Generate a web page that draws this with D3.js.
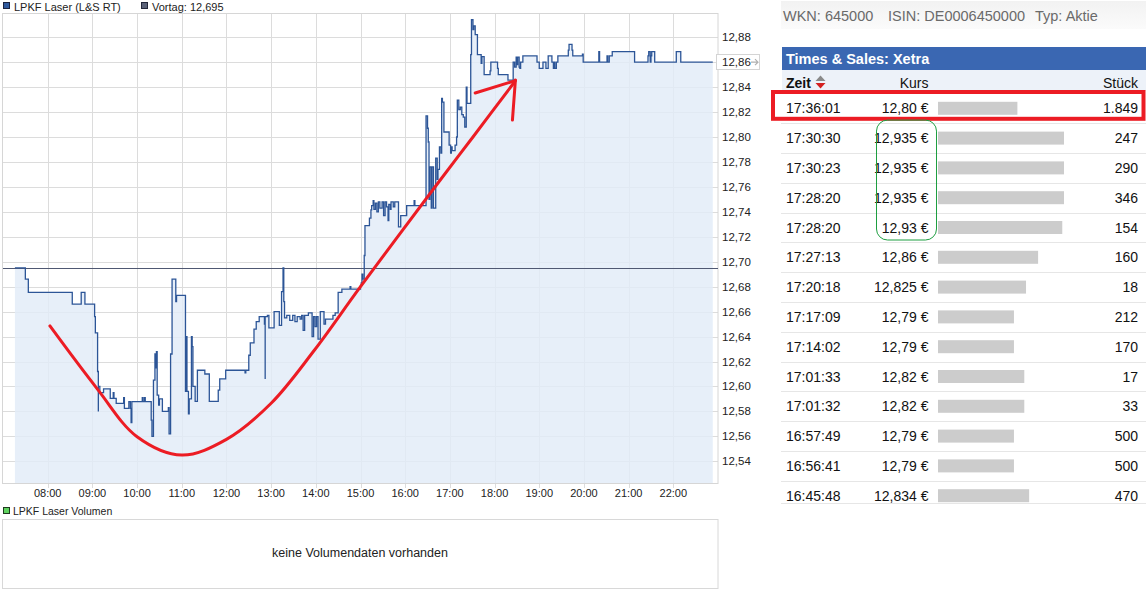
<!DOCTYPE html>
<html><head><meta charset="utf-8">
<script src="https://cdn.jsdelivr.net/npm/d3@7"></script>
<style>
html,body{margin:0;padding:0;background:#fff;}
svg{display:block;font-family:"Liberation Sans",Arial,sans-serif;}
</style></head><body>
<svg id="c" width="1146" height="598"></svg>
<script>
// ---------- chart data (time, price) ----------
const morningTicks = [
 ["07:16",12.695],["07:30",12.686],["07:34",12.6755],["08:33",12.666],["08:45",12.6755],["08:50",12.666],
 ["09:03",12.656],["09:04",12.643],["09:07",12.612],["09:08",12.580],["09:08",12.600],["09:10",12.595],
 ["09:15",12.598],["09:24",12.5904],["09:28",12.595],["09:29",12.5904],["09:32",12.5865],["09:42",12.591],
 ["09:43",12.5825],["09:49",12.5878],["09:51",12.5825],["09:52",12.571],["09:53",12.5878],["10:07",12.591],
 ["10:08",12.5878],["10:10",12.591],["10:11",12.5878],["10:19",12.573],["10:20",12.560],["10:22",12.605],
 ["10:24",12.626],["10:25",12.615],["10:26",12.628],["10:27",12.593],["10:29",12.585],["10:30",12.590],
 ["10:34",12.580],["10:42",12.583],["10:43",12.562],["10:45",12.626],["10:47",12.686],["10:52",12.668],
 ["10:53",12.673],["11:05",12.596],["11:06",12.640],["11:07",12.596],["11:09",12.578],["11:10",12.590],
 ["11:13",12.640],["11:14",12.632],["11:15",12.600],["11:18",12.588],["11:21",12.613],["11:31",12.610],
 ["11:37",12.588],["11:49",12.597],["11:51",12.606],["11:59",12.613]
];
const middayTicks = [
 ["12:25",12.611],["12:26",12.613],["12:30",12.625],["12:32",12.635],["12:37",12.646],["12:40",12.652],
 ["12:44",12.656],["12:51",12.650],["12:52",12.606],["12:52",12.656],["12:55",12.657],["12:57",12.647],
 ["13:04",12.660],["13:11",12.649],["13:14",12.676],["13:16",12.695],["13:17",12.668],["13:18",12.655],
 ["13:21",12.657],["13:25",12.653],["13:29",12.657],["13:32",12.652],["13:35",12.656],["13:39",12.654],
 ["13:41",12.657],["13:43",12.645],["13:45",12.657],["13:50",12.659],["13:55",12.640],["13:57",12.656],
 ["13:59",12.648],["14:01",12.656],["14:03",12.638],["14:06",12.660],["14:11",12.650],["14:13",12.654],
 ["14:23",12.657],["14:26",12.659],["14:30",12.6755],["14:35",12.678],["14:46",12.680],["14:47",12.678],
 ["15:00",12.681],["15:01",12.683],["15:02",12.690],["15:03",12.686]
];
const afternoonTicks = [
 ["15:05",12.705],["15:06",12.729],["15:12",12.735],["15:14",12.7415],["15:15",12.745],["15:17",12.749],
 ["15:18",12.742],["15:20",12.747],["15:22",12.740],["15:24",12.748],["15:26",12.743],["15:29",12.748],
 ["15:31",12.737],["15:33",12.748],["15:35",12.744],["15:37",12.733],["15:38",12.746],["15:40",12.742],
 ["15:41",12.748],["15:44",12.744],["15:46",12.748],["15:51",12.728],["15:54",12.737],["16:02",12.745],
 ["16:12",12.749],["16:13",12.745],["16:28",12.817],["16:30",12.807],["16:31",12.796],["16:32",12.750],
 ["16:33",12.776],["16:35",12.743],["16:36",12.776],["16:38",12.743],["16:41",12.783],["16:43",12.766],
 ["16:44",12.774],["16:46",12.792],["16:48",12.787],["16:49",12.831],["16:50",12.828],["16:52",12.804],
 ["16:59",12.7935],["17:01",12.787],["17:02",12.792],["17:03",12.789],["17:07",12.7935],["17:09",12.800],
 ["17:10",12.8296],["17:12",12.822],["17:14",12.824],["17:16",12.818],["17:18",12.816],["17:20",12.808],
 ["17:22",12.840],["17:23",12.827],["17:28",12.866],["17:29",12.894],["17:31",12.886],["17:32",12.889],
 ["17:34",12.882],["17:37",12.866],["17:42",12.859],["17:43",12.8645],["17:46",12.850],["17:54",12.853],
 ["17:55",12.860]
];
const eveningTicks = [
 ["18:04",12.855],["18:05",12.850],["18:18",12.8456],["18:25",12.860],["18:27",12.856],["18:29",12.864],
 ["18:30",12.858],["18:31",12.864],["18:33",12.856],["18:34",12.855],["18:35",12.860],["18:38",12.865],
 ["18:57",12.860],["19:00",12.855],["19:05",12.860],["19:09",12.855],["19:12",12.865],["19:17",12.860],
 ["19:19",12.855],["19:20",12.860],["19:21",12.855],["19:23",12.860],["19:25",12.865],["19:39",12.8696],
 ["19:40",12.8743],["19:44",12.8696],["19:45",12.865],["19:58",12.8665],["19:59",12.860],["20:20",12.8685],
 ["20:21",12.860],["20:31",12.865],["20:32",12.860],["20:34",12.865],["20:38",12.8685],["21:08",12.860],
 ["21:26",12.865],["21:27",12.8685],["21:29",12.860],["21:30",12.865],["21:31",12.8685],["21:35",12.860],
 ["22:04",12.8685],["22:10",12.860],["22:53",12.860]
];
const previousClose = 12.695;
const lastPrice = 12.86;
const xTickLabels = ["08:00","09:00","10:00","11:00","12:00","13:00","14:00","15:00","16:00","17:00","18:00","19:00","20:00","21:00","22:00"];
const yTickValues = [12.54,12.56,12.58,12.60,12.62,12.64,12.66,12.68,12.70,12.72,12.74,12.76,12.78,12.80,12.82,12.84,12.86,12.88];
// hand-drawn annotation (in data coordinates)
const annoCurve = [["08:03",12.6485],["09:06",12.5985],["10:00",12.5597],["11:00",12.5450],["12:00",12.5576],["13:00",12.5865],["13:58",12.629],["15:00",12.680],["16:42",12.7615],["17:31",12.800],["18:27",12.8443]];
const annoArrowA = [["17:34",12.8353],["18:28",12.8452]];
const annoArrowB = [["18:24",12.8136],["18:28",12.8457]];

// ---------- Times & Sales data ----------
const tsTimes = ["17:36:01","17:30:30","17:30:23","17:28:20","17:28:20","17:27:13","17:20:18","17:17:09","17:14:02","17:01:33","17:01:32","16:57:49","16:56:41","16:45:48"];
const tsPrices = [12.80,12.935,12.935,12.935,12.93,12.86,12.825,12.79,12.79,12.82,12.82,12.79,12.79,12.834];
const tsVolumes = [1849,247,290,346,154,160,18,212,170,17,33,500,500,470];
const infoItems = ["WKN: 645000","ISIN: DE0006450000","Typ: Aktie"];

// ---------- setup ----------
const parseT = d3.timeParse("%H:%M");
const ticks = [].concat(morningTicks, middayTicks, afternoonTicks, eveningTicks).map(d => ({t: parseT(d[0]), p: d[1]}));
const de = d3.formatLocale({decimal:",", thousands:".", grouping:[3], currency:["",""]});
const f2 = de.format(".2f"), f3 = de.format(".3f"), fInt = de.format(",d");
const fmtPrice = p => (Math.abs(Math.round(p*100) - p*100) < 1e-6 ? f2(p) : f3(p)) + " €";

const svg = d3.select("#c");
const P = {left:3, right:718, top:13, bottom:483};
const x = d3.scaleTime().domain([parseT("07:00"), parseT("23:00")]).range([P.left, P.right]);
const y = d3.scaleLinear().domain([12.5226, 12.8994]).range([P.bottom, P.top]);
const ax = d => x(parseT(d[0])), ay = d => y(d[1]);

// legend top
const leg = svg.append("g");
leg.append("rect").attr("x",3.5).attr("y",2.5).attr("width",6).attr("height",6).attr("fill","#2f5a9e").attr("stroke","#1b2340");
leg.append("text").attr("x",14).attr("y",11).attr("font-size",11).attr("fill","#222").text("LPKF Laser (L&S RT)");
leg.append("rect").attr("x",141.5).attr("y",2.5).attr("width",6).attr("height",6).attr("fill","#5b6278").attr("stroke","#22273a");
leg.append("text").attr("x",152).attr("y",11).attr("font-size",11).attr("fill","#222").text("Vortag: " + f3(previousClose));

// grid
const grid = svg.append("g");
grid.selectAll(".hg").data(yTickValues).join("line")
  .attr("x1",P.left).attr("x2",P.right).attr("y1",d=>Math.round(y(d))+0.5).attr("y2",d=>Math.round(y(d))+0.5)
  .attr("stroke","#dcdcdc");
grid.selectAll(".vg").data(xTickLabels).join("line")
  .attr("x1",d=>Math.round(x(parseT(d)))+0.5).attr("x2",d=>Math.round(x(parseT(d)))+0.5)
  .attr("y1",P.top).attr("y2",P.bottom+5).attr("stroke","#dcdcdc");

// area fill (semi transparent so grid shows lightly)
svg.append("path").datum(ticks)
  .attr("d", d3.area().curve(d3.curveStepAfter).x(d=>x(d.t)).y0(P.bottom).y1(d=>y(d.p)))
  .attr("fill","rgb(226,235,248)").attr("fill-opacity",0.82);

// frame
svg.append("rect").attr("x",2.5).attr("y",P.top+0.5).attr("width",P.right-2.5).attr("height",P.bottom-P.top)
  .attr("fill","none").attr("stroke","#d6d6d6");

// previous close line
svg.append("line").attr("x1",P.left).attr("x2",P.right)
  .attr("y1",Math.round(y(previousClose))+0.5).attr("y2",Math.round(y(previousClose))+0.5)
  .attr("stroke","#4f5872").attr("stroke-width",1);

// price line
svg.append("path").datum(ticks)
  .attr("d", d3.line().curve(d3.curveStepAfter).x(d=>x(d.t)).y(d=>y(d.p)))
  .attr("fill","none").attr("stroke","#2c5597").attr("stroke-width",1.3);

// axes labels
svg.selectAll(".xl").data(xTickLabels).join("text")
  .attr("x",d=>x(parseT(d))).attr("y",497).attr("text-anchor","middle")
  .attr("font-size",11).attr("fill","#222").text(d=>d);
svg.selectAll(".yl").data(yTickValues.filter(v=>Math.abs(v-lastPrice)>1e-6)).join("text")
  .attr("x",722).attr("y",d=>y(d)+4).attr("font-size",11.5).attr("fill","#222").text(d=>f2(d));
// last price marker
const lp = svg.append("g");
lp.append("rect").attr("x",716.5).attr("y",Math.round(y(lastPrice))-7.5).attr("width",43).attr("height",15)
  .attr("fill","#fff").attr("stroke","#d4d4d4");
lp.append("text").attr("x",722).attr("y",y(lastPrice)+4).attr("font-size",11.5).attr("fill","#222").text(f2(lastPrice));
lp.append("path").attr("d",`M751,${y(lastPrice)} h7 M755,${y(lastPrice)-3} l3,3 l-3,3`)
  .attr("fill","none").attr("stroke","#b0b0b0").attr("stroke-width",1.2);

// annotation (red hand-drawn arrow)
const red = "#ec1c24";
const anno = svg.append("g").attr("fill","none").attr("stroke",red).attr("stroke-width",3).attr("stroke-linecap","round");
anno.append("path").datum(annoCurve).attr("d", d3.line().curve(d3.curveCatmullRom.alpha(0.5)).x(ax).y(ay));
anno.append("path").datum(annoArrowA).attr("d", d3.line().x(ax).y(ay));
anno.append("path").datum(annoArrowB).attr("d", d3.line().x(ax).y(ay));

// volume panel
svg.append("rect").attr("x",3.5).attr("y",507.5).attr("width",6).attr("height",6).attr("fill","#5fd35f").attr("stroke","#1f3a1f");
svg.append("text").attr("x",13).attr("y",515).attr("font-size",10.5).attr("fill","#222").text("LPKF Laser Volumen");
svg.append("rect").attr("x",2.5).attr("y",519.5).attr("width",715.5).attr("height",69).attr("fill","#fff").attr("stroke","#d8d8d8");
svg.append("text").attr("x",360).attr("y",557).attr("text-anchor","middle").attr("font-size",12.5).attr("fill","#222").text("keine Volumendaten vorhanden");

// ---------- Times & Sales panel ----------
const R = svg.append("g");
const grad = svg.append("defs").append("linearGradient").attr("id","ig").attr("x1",0).attr("y1",0).attr("x2",0).attr("y2",1);
grad.append("stop").attr("offset","0%").attr("stop-color","#f2f2f2");
grad.append("stop").attr("offset","100%").attr("stop-color","#fbfbfb");
R.append("rect").attr("x",781).attr("y",1).attr("width",365).attr("height",28).attr("fill","url(#ig)");
const infoPos = [783, 888, 1035];
R.selectAll(".info").data(infoItems).join("text")
  .attr("x",(d,i)=>infoPos[i]).attr("y",21).attr("font-size",14.5).attr("fill","#6a6a6a").text(d=>d);

R.append("rect").attr("x",782).attr("y",47).attr("width",364).attr("height",23).attr("fill","#3a67b2");
R.append("text").attr("x",786).attr("y",64).attr("font-size",14.5).attr("font-weight","bold").attr("fill","#fff").text("Times & Sales: Xetra");
R.append("rect").attr("x",782).attr("y",70).attr("width",364).attr("height",21).attr("fill","#edf2f9");
R.append("text").attr("x",786).attr("y",88).attr("font-size",14).attr("font-weight","bold").attr("fill","#111").text("Zeit");
R.append("path").attr("d","M815.5,81 L820.5,75.5 L825.5,81 Z").attr("fill","#8a8a8a");
R.append("path").attr("d","M815.5,83 L820.5,88.5 L825.5,83 Z").attr("fill","#d42020");
R.append("text").attr("x",928.5).attr("y",88).attr("text-anchor","end").attr("font-size",14).attr("fill","#111").text("Kurs");
R.append("text").attr("x",1138).attr("y",88).attr("text-anchor","end").attr("font-size",14).attr("fill","#111").text("Stück");

const rowY = d3.scaleLinear().domain([0, tsTimes.length-1]).range([108.3, 495.7]);
const bw = d3.scaleLinear().domain([12.57, 12.935]).range([0, 126]);
const rows = R.selectAll(".row").data(tsTimes.map((t,i)=>({t, p: tsPrices[i], v: tsVolumes[i], i}))).join("g");
rows.filter(d=>d.i>0).append("line").attr("x1",781).attr("x2",1146)
  .attr("y1",d=>Math.round(rowY(d.i)-15)+0.5).attr("y2",d=>Math.round(rowY(d.i)-15)+0.5).attr("stroke","#e6e6e6");
rows.append("text").attr("x",786).attr("y",d=>rowY(d.i)+5).attr("font-size",14).attr("fill","#111").text(d=>d.t);
rows.append("text").attr("x",928.5).attr("y",d=>rowY(d.i)+5).attr("text-anchor","end").attr("font-size",14).attr("fill","#111").text(d=>fmtPrice(d.p));
rows.append("rect").attr("x",938).attr("y",d=>rowY(d.i)-6.5).attr("height",13).attr("width",d=>bw(d.p)).attr("fill","#cccccc");
rows.append("text").attr("x",1138).attr("y",d=>rowY(d.i)+5).attr("text-anchor","end").attr("font-size",14).attr("fill","#111").text(d=>fInt(d.v));
R.append("line").attr("x1",781).attr("x2",1146).attr("y1",503.5).attr("y2",503.5).attr("stroke","#e6e6e6");

// annotations on table
R.append("rect").attr("x",773).attr("y",rowY(0)-16.3).attr("width",370.5).attr("height",26.8)
  .attr("fill","none").attr("stroke",red).attr("stroke-width",4);
R.append("rect").attr("x",876.5).attr("y",rowY(1)-18).attr("width",60).attr("height",rowY(4)-rowY(1)+30.5)
  .attr("rx",11).attr("fill","none").attr("stroke","#1d9e40").attr("stroke-width",1);
</script>
</body></html>
